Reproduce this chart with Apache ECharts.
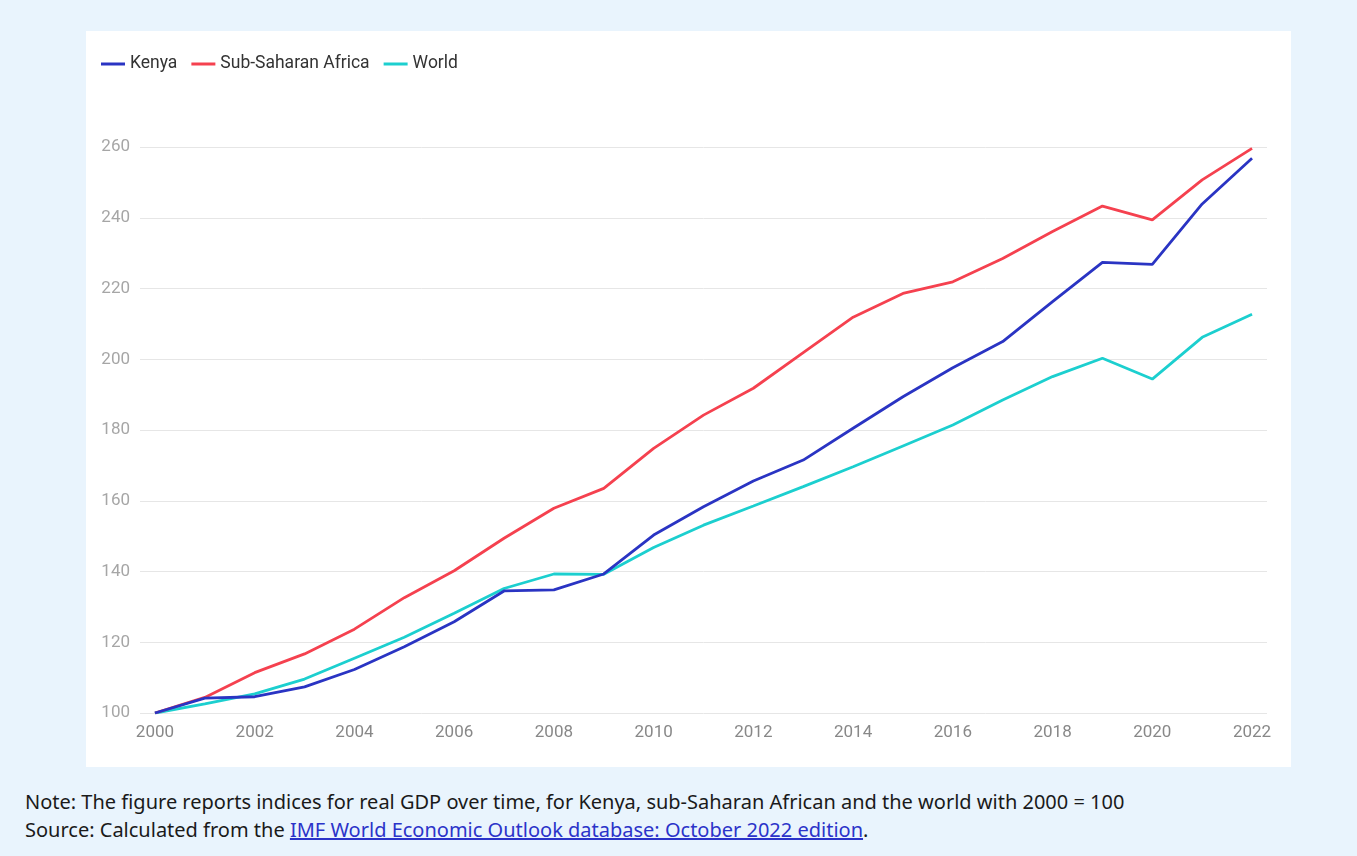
<!DOCTYPE html>
<html>
<head>
<meta charset="utf-8">
<script src="https://cdn.jsdelivr.net/npm/echarts@6/dist/echarts.min.js"></script>
<style>
  html, body { margin: 0; padding: 0; width: 1357px; height: 856px; background: #e9f4fd; overflow: hidden; }
  #panel { position: absolute; left: 86px; top: 31px; width: 1205px; height: 736px; background: #ffffff; }
  #chart { width: 1205px; height: 736px; }
  .note { position: absolute; left: 25px; font-family: "Noto Sans", "Open Sans", sans-serif; font-size: 20px; line-height: 28px; color: #1a1a1a; white-space: nowrap; }
  .note a { color: #2b33c9; text-decoration: underline; }
</style>
</head>
<body>
<div id="panel"><div id="chart"></div></div>
<div class="note" style="top:788px;">Note: The figure reports indices for real GDP over time, for Kenya, sub-Saharan African and the world with 2000 = 100</div>
<div class="note" style="top:816px;">Source: Calculated from the <a href="#">IMF World Economic Outlook database: October 2022 edition</a>.</div>
<script>
const years = [2000,2001,2002,2003,2004,2005,2006,2007,2008,2009,2010,2011,2012,2013,2014,2015,2016,2017,2018,2019,2020,2021,2022];
const kenya = [100,104.2,104.6,107.4,112.3,118.7,125.8,134.5,134.8,139.3,150.3,158.3,165.6,171.5,180.5,189.4,197.6,205.0,216.3,227.4,226.8,243.9,256.8];
const ssa   = [100,104.4,111.4,116.7,123.7,132.6,140.2,149.4,157.9,163.5,174.8,184.2,191.8,201.9,211.9,218.6,221.9,228.5,236.1,243.3,239.4,250.7,259.6];
const world = [100,102.6,105.4,109.6,115.5,121.4,128.2,135.2,139.3,139.2,146.8,153.1,158.5,164.0,169.6,175.5,181.4,188.5,195.1,200.3,194.4,206.2,212.7];
const xTicks = [2000,2002,2004,2006,2008,2010,2012,2014,2016,2018,2020,2022];
const yTicks = [100,120,140,160,180,200,220,240,260];

function pairs(vals) { return years.map((y, i) => [y, vals[i]]); }

const chart = echarts.init(document.getElementById('chart'));
const lineCommon = { type: 'line', showSymbol: false, symbol: 'none', lineStyle: { width: 2.8 }, emphasis: { disabled: true } };
chart.setOption({
  animation: false,
  textStyle: { fontFamily: 'Roboto' },
  color: ['#2a34c3', '#f5414f', '#1ccfcf'],
  legend: {
    left: 10, top: 19,
    icon: 'rect', itemWidth: 24, itemHeight: 3, itemGap: 14,
    textStyle: { fontFamily: 'Roboto', fontSize: 17.5, color: '#333333' },
    data: ['Kenya', 'Sub-Saharan Africa', 'World']
  },
  grid: { left: 54, right: 24, top: 116, bottom: 54, containLabel: false },
  xAxis: {
    type: 'value', min: 1999.7, max: 2022.3,
    axisLine: { show: false }, axisTick: { show: false }, splitLine: { show: false },
    axisLabel: { customValues: xTicks, color: '#888888', fontSize: 17, margin: 11, formatter: v => String(Math.round(v)) }
  },
  yAxis: {
    type: 'value', min: 100, max: 260, interval: 20,
    axisLine: { show: false }, axisTick: { show: false },
    splitLine: { lineStyle: { color: '#e6e6e6', width: 1 } },
    axisLabel: { color: '#a6a6a6', fontSize: 17, margin: 10, verticalAlign: 'middle' }
  },
  series: [
    Object.assign({ name: 'Kenya', data: pairs(kenya), z: 4 }, lineCommon),
    Object.assign({ name: 'Sub-Saharan Africa', data: pairs(ssa), z: 3 }, lineCommon),
    Object.assign({ name: 'World', data: pairs(world), z: 2 }, lineCommon)
  ]
});
</script>
</body>
</html>
